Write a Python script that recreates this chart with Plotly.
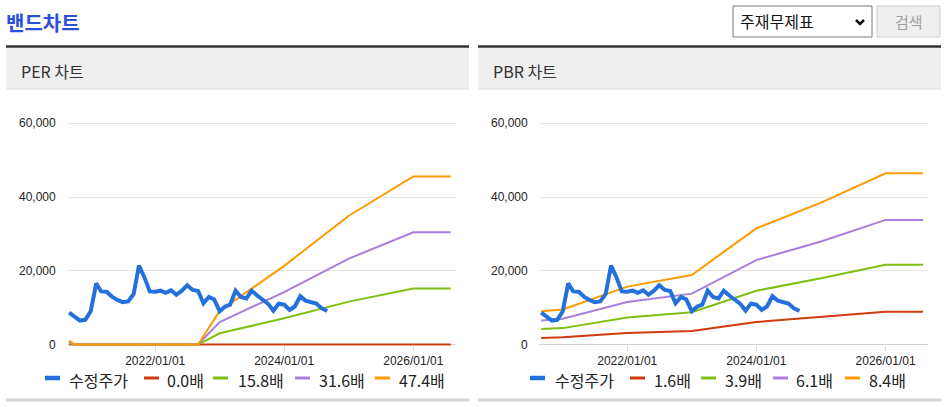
import pandas as pd
import plotly.graph_objects as go
from plotly.subplots import make_subplots

W, H = 946, 407

# 수정주가 (monthly, 2020-09 ~ 2024-09)
price_dates = pd.date_range('2020-09-01', periods=49, freq='MS')
price = [8630, 7600, 6500, 6700, 9000, 16600, 14400, 14300, 13000, 12100,
         11500, 11700, 13700, 21400, 18200, 14400, 14300, 14600, 14000, 14700,
         13500, 14600, 16100, 14800, 14500, 11200, 12900, 12200, 9000, 10300,
         10800, 14600, 12900, 12500, 14600, 13300, 12100, 11100, 9200, 11100,
         10800, 9400, 10300, 13100, 11900, 11400, 11100, 9800, 9100]

# PER band
per_dates = ['2020-09-01', '2020-10-01', '2022-09-01', '2023-01-01',
             '2024-01-01', '2025-01-01', '2026-01-01', '2026-08-01']
per_00 = [0, 0, 0, 0, 0, 0, 0, 0]
per_158 = [350, 0, 0, 3040, 7110, 11640, 15220, 15220]
per_316 = [700, 0, 0, 6070, 14220, 23290, 30430, 30430]
per_474 = [1100, 0, 0, 9100, 21330, 34930, 45600, 45600]

# PBR band
pbr_dates = ['2020-09-01', '2021-01-01', '2022-01-01', '2023-01-01',
             '2024-01-01', '2025-01-01', '2026-01-01', '2026-08-01']
pbr_16 = [1800, 1950, 3100, 3700, 6100, 7400, 8880, 8880]
pbr_39 = [4200, 4450, 7300, 8750, 14600, 17950, 21650, 21650]
pbr_61 = [6500, 7000, 11550, 13800, 22900, 27950, 33800, 33800]
pbr_84 = [9000, 9500, 15700, 18850, 31500, 38500, 46450, 46450]

per_names = ['0.0배', '15.8배', '31.6배', '47.4배']
pbr_names = ['1.6배', '3.9배', '6.1배', '8.4배']
band_colors = ['#d03a0c', '#7fbf12', '#aa7edc', '#ff9a00']
price_color = '#2470dc'

KR = 'Noto Sans CJK KR'
AR = 'Arial, Liberation Sans, sans-serif'


def px(x):
    return x / W


def py(y):
    return 1 - y / H


fig = make_subplots(rows=1, cols=2)

for col, dates, bands, names in [
        (1, per_dates, [per_00, per_158, per_316, per_474], per_names),
        (2, pbr_dates, [pbr_16, pbr_39, pbr_61, pbr_84], pbr_names)]:
    for i, (vals, name) in enumerate(zip(bands, names)):
        fig.add_trace(go.Scatter(
            x=dates, y=vals, name=name, mode='lines',
            line=dict(color=band_colors[i], width=2),
            showlegend=False, hoverinfo='skip'
        ), row=1, col=col)
    fig.add_trace(go.Scatter(
        x=price_dates, y=price, name='수정주가', mode='lines',
        line=dict(color=price_color, width=4), showlegend=False
    ), row=1, col=col)

x_range = ['2020-08-18', '2026-08-29']
y_dom = [py(346), py(121.8)]
for col, dom in [(1, [px(66.7), px(455.7)]), (2, [px(538.7), px(928)])]:
    fig.update_xaxes(
        row=1, col=col, domain=dom, range=x_range, type='date', automargin=False,
        tickvals=['2022-01-01', '2024-01-01', '2026-01-01'],
        tickformat='%Y/%m/%d', ticks='outside', ticklen=4, tickcolor='#ccd4de',
        showgrid=False, showline=False, zeroline=False,
        tickfont=dict(family=AR, size=12, color='#222')
    )
    fig.update_yaxes(
        row=1, col=col, domain=y_dom, range=[-400, 60400], automargin=False,
        tickvals=[0, 20000, 40000, 60000], tickformat=',d',
        gridcolor='#e5e5e5', gridwidth=1,
        zeroline=True, zerolinecolor='#ccd4de', zerolinewidth=1,
        showline=False, ticklabelstandoff=10,
        tickfont=dict(family=AR, size=12, color='#222')
    )

shapes = []
annotations = []
for x0, x1, label in [(6, 469, 'PER 차트'), (478, 941, 'PBR 차트')]:
    shapes.append(dict(type='rect', xref='paper', yref='paper', layer='below',
                       x0=px(x0), x1=px(x1), y0=py(88.5), y1=py(47.5),
                       fillcolor='#efefef', line=dict(width=0)))
    shapes.append(dict(type='line', xref='paper', yref='paper',
                       x0=px(x0), x1=px(x1), y0=py(89), y1=py(89),
                       line=dict(color='#dcdcdc', width=1)))
    shapes.append(dict(type='line', xref='paper', yref='paper',
                       x0=px(x0), x1=px(x1), y0=py(46.5), y1=py(46.5),
                       line=dict(color='#333', width=2.5)))
    shapes.append(dict(type='line', xref='paper', yref='paper',
                       x0=px(x0), x1=px(x1), y0=py(400), y1=py(400),
                       line=dict(color='#d4d4d4', width=3)))
    annotations.append(dict(text=label, xref='paper', yref='paper',
                            x=px(x0 + 13), y=py(71), xanchor='left', yanchor='middle',
                            showarrow=False, font=dict(family=KR, size=16, color='#333')))

# legends drawn by hand (short line sample + label), as in the original widget
legend_rows = [
    (['수정주가'] + per_names, [45, 144, 213, 295, 375], [68, 166, 237, 318, 398]),
    (['수정주가'] + pbr_names, [530, 630, 701, 773, 845], [554, 653, 724, 795, 868]),
]
for names, line_x, text_x in legend_rows:
    colors = [price_color] + band_colors
    for k, name in enumerate(names):
        shapes.append(dict(type='line', xref='paper', yref='paper',
                           x0=px(line_x[k]), x1=px(line_x[k] + 15),
                           y0=py(378), y1=py(378),
                           line=dict(color=colors[k], width=4.5 if k == 0 else 3)))
        annotations.append(dict(text=name, xref='paper', yref='paper',
                                x=px(text_x[k] - 1), y=py(379.5), xanchor='left',
                                yanchor='middle', showarrow=False,
                                font=dict(family=KR, size=16, color='#222')))

# select box + button
shapes.append(dict(type='rect', xref='paper', yref='paper',
                   x0=px(733), x1=px(872), y0=py(37), y1=py(6),
                   fillcolor='white', line=dict(color='#767676', width=1)))
shapes.append(dict(type='path', xref='paper', yref='paper',
                   path=f'M {px(856)} {py(20)} L {px(860)} {py(24)} L {px(864)} {py(20)}',
                   line=dict(color='#111', width=2.5)))
shapes.append(dict(type='rect', xref='paper', yref='paper',
                   x0=px(877), x1=px(940), y0=py(37), y1=py(6),
                   fillcolor='#efefef', line=dict(color='#cfcfcf', width=1)))
annotations += [
    dict(text='<b>밴드차트</b>', xref='paper', yref='paper', x=px(4), y=py(23),
         xanchor='left', yanchor='middle', showarrow=False,
         font=dict(family=KR, size=20, color='#2b50d8')),
    dict(text='주재무제표', xref='paper', yref='paper', x=px(738), y=py(21.5),
         xanchor='left', yanchor='middle', showarrow=False,
         font=dict(family=KR, size=16, color='#111')),
    dict(text='검색', xref='paper', yref='paper', x=px(908.5), y=py(21.5),
         xanchor='center', yanchor='middle', showarrow=False,
         font=dict(family=KR, size=15, color='#a0a0a0')),
]

fig.update_layout(
    width=W, height=H,
    margin=dict(l=0, r=0, t=0, b=0, pad=0),
    paper_bgcolor='white', plot_bgcolor='white',
    showlegend=False,
    shapes=shapes, annotations=annotations,
    hovermode='x unified'
)

pin_page = ("var d=document.getElementById('{plot_id}');"
            "d.style.position='fixed';d.style.top='0';d.style.left='0';"
            "document.body.style.margin='0';document.body.style.overflow='hidden';")
fig.write_html('out.html', config={'displayModeBar': False}, post_script=pin_page)
